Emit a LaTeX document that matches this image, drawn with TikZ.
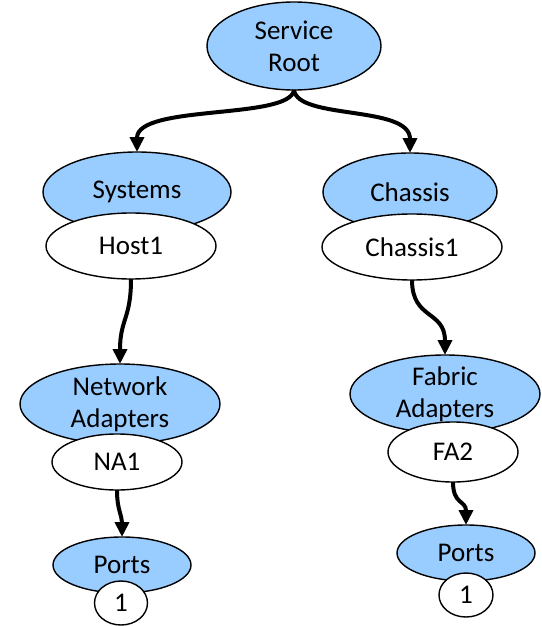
\documentclass[tikz,border=0pt]{standalone}
\usepackage{fontspec}
\setmainfont{Carlito}
\usetikzlibrary{shapes.geometric,arrows.meta}
\definecolor{nodeblue}{RGB}{153,204,255}
\begin{document}
\begin{tikzpicture}[x=1pt,y=-1pt,
    every node/.style={ellipse,draw,line width=1.4pt,inner sep=0pt,outer sep=0pt,
      align=center,font=\fontsize{27}{32}\selectfont},
    res/.style={fill=nodeblue},
    inst/.style={fill=white},
    link/.style={line width=4pt,-{Triangle[length=15pt,width=14pt]}}]
      \useasboundingbox (0,0) rectangle (541,626);
      \draw
        (294,46) node[res,minimum width=174pt,minimum height=88pt] (root){Service\\Root}
        (137,192) node[res,minimum width=188pt,minimum height=80pt] (systems){Systems}
        (131,246) node[inst,minimum width=170pt,minimum height=66pt] (host){Host1}
        (410,192) node[res,minimum width=174pt,minimum height=78pt] (chassis){Chassis}
        (412,247) node[inst,minimum width=180pt,minimum height=66pt] (chassisone){Chassis1}
        (120,404) node[res,minimum width=200pt,minimum height=80pt] (netad){Network\\Adapters}
        (117,462) node[inst,minimum width=130pt,minimum height=56pt] (naone){NA1}
        (445,394) node[res,minimum width=190pt,minimum height=78pt] (fabad){Fabric\\Adapters}
        (453,452) node[inst,minimum width=130pt,minimum height=60pt] (fatwo){FA2}
        (122,565) node[res,minimum width=138pt,minimum height=56pt] (portsl){Ports}
        (121,603) node[inst,minimum width=53pt,minimum height=44pt] (onel){1}
        (466,553) node[res,minimum width=138pt,minimum height=56pt] (portsr){Ports}
        (466,595) node[inst,minimum width=54pt,minimum height=44pt] (oner){1};
      \begin{scope}[link]
        \draw (root.south) .. controls +(-4,30) and +(0,-48) .. (systems.north);
        \draw (root.south) .. controls +(4,30) and +(0,-48) .. (chassis.north);
        \draw (host.south) .. controls +(0,40) and +(0,-45) .. (netad.north);
        \draw (chassisone.south) .. controls +(0,40) and +(0,-45) .. (fabad.north);
        \draw (naone.south) .. controls +(0,20) and +(0,-22) .. (portsl.north);
        \draw (fatwo.south) .. controls +(0,23) and +(0,-25) .. (portsr.north);
      \end{scope}
    \end{tikzpicture}
\end{document}
